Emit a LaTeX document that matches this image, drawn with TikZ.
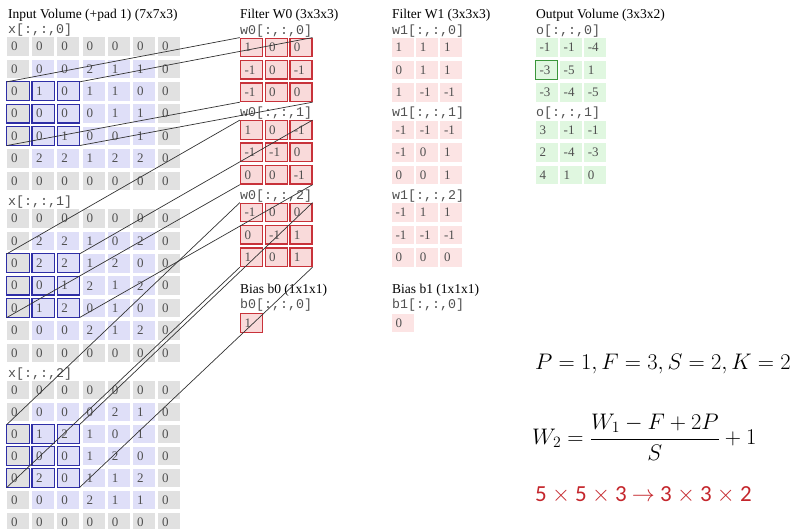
\RequirePackage{fix-cm}
\documentclass[tikz,border=0pt]{standalone}
\usepackage[no-math]{fontspec}
\newfontfamily\timesfont{Liberation Serif}
\newfontfamily\courfont{Liberation Mono}
\newfontfamily\califont{Carlito}
\definecolor{padgray}{HTML}{E1E1E1}
\definecolor{volblue}{HTML}{DFDFF8}
\definecolor{winblue}{HTML}{2E2EA6}
\definecolor{filtpink}{HTML}{F9DADA}
\definecolor{filtred}{HTML}{C8323A}
\definecolor{wonepink}{HTML}{FCE4E4}
\definecolor{outgreen}{HTML}{E0F7E0}
\definecolor{outedge}{HTML}{3A963A}
\definecolor{numgray}{HTML}{505050}
\definecolor{eqred}{HTML}{C4262C}
\tikzset{
  cell/.style={inner xsep=4pt, inner ysep=0pt, text width=14pt, minimum height=18.5pt,
    align=left, text=numgray, font=\timesfont\fontsize{13}{13}\selectfont},
  title/.style={anchor=west, inner sep=0pt, font=\timesfont\fontsize{13.5}{15}\selectfont},
  slice/.style={anchor=west, inner sep=0pt, text=numgray, font=\courfont\fontsize{13.3}{15}\selectfont},
  winbox/.style={draw=winblue, line width=1.3pt},
  filtbox/.style={draw=filtred, line width=1.3pt},
  link/.style={draw=black!80, line width=0.7pt},
  eq/.style={anchor=west, inner sep=0pt, font=\fontsize{22.5}{26}\selectfont}
}
\newcommand{\inslice}[4]{%
  \foreach \row [count=\r from 0] in {#4} {
    \foreach \v [count=\c from 0] in \row {
      \pgfmathtruncatemacro\pad{(\r==0)||(\r==6)||(\c==0)||(\c==6)}
      \ifnum\pad=1 \def\cfill{padgray}\else\def\cfill{volblue}\fi
      \node[cell, fill=\cfill] (x-#1-\r-\c) at ({18+25.2*\c},{#2+#3*\r}) {\v};
    }
  }
  \foreach \r in {2,3,4} \foreach \c in {0,1,2}
    \draw[winbox] (x-#1-\r-\c.north west) rectangle (x-#1-\r-\c.south east);
}
\newcommand{\fgrid}[6]{%
  \foreach \row [count=\r from 0] in {#6} {
    \foreach \v [count=\c from 0] in \row {
      \node[cell, #5] (#1-\r-\c) at ({#2+#3*\c},{#4+22.4*\r}) {\v};
    }
  }
}
\begin{document}
\begin{tikzpicture}[x=1pt, y=-1pt]
  \useasboundingbox (0,0) rectangle (801,529);

  \node[title] (tin) at (8,15) {Input Volume (+pad 1) (7x7x3)};
  \node[title] (tw0) at (240,15) {Filter W0 (3x3x3)};
  \node[title] (tw1) at (392,15) {Filter W1 (3x3x3)};
  \node[title] (tout) at (536,15) {Output Volume (3x3x2)};

  \node[slice] (lx0) at (8,30.5) {x[:,:,0]};
  \node[slice] (lx1) at (8,202) {x[:,:,1]};
  \node[slice] (lx2) at (8,374) {x[:,:,2]};
  \inslice{0}{46.5}{22.4}{{0,0,0,0,0,0,0},{0,0,0,2,1,1,0},{0,1,0,1,1,0,0},{0,0,0,0,1,1,0},{0,0,1,0,0,1,0},{0,2,2,1,2,2,0},{0,0,0,0,0,0,0}}
  \inslice{1}{218.5}{22.4}{{0,0,0,0,0,0,0},{0,2,2,1,0,2,0},{0,2,2,1,2,0,0},{0,0,1,2,1,2,0},{0,1,2,0,1,0,0},{0,0,0,2,1,2,0},{0,0,0,0,0,0,0}}
  \inslice{2}{390}{22}{{0,0,0,0,0,0,0},{0,0,0,0,2,1,0},{0,1,2,1,0,1,0},{0,0,0,1,2,0,0},{0,2,0,1,1,2,0},{0,0,0,2,1,1,0},{0,0,0,0,0,0,0}}

  \node[slice] (lw00) at (240,31) {w0[:,:,0]};
  \node[slice] (lw01) at (240,113.5) {w0[:,:,1]};
  \node[slice] (lw02) at (240,196) {w0[:,:,2]};
  \fgrid{w0-0}{251.5}{24.7}{47.5}{fill=filtpink, filtbox}{{1,0,0},{-1,0,-1},{-1,0,0}}
  \fgrid{w0-1}{251.5}{24.7}{130}{fill=filtpink, filtbox}{{1,0,-1},{-1,-1,0},{0,0,-1}}
  \fgrid{w0-2}{251.5}{24.7}{212.5}{fill=filtpink, filtbox}{{-1,0,0},{0,-1,1},{1,0,1}}
  \node[title] (tb0) at (240,290) {Bias b0 (1x1x1)};
  \node[slice] (lb0) at (240,305) {b0[:,:,0]};
  \node[cell, fill=filtpink, filtbox] (b0) at (251.5,323) {1};

  \node[slice] (lw10) at (392,31) {w1[:,:,0]};
  \node[slice] (lw11) at (392,113.5) {w1[:,:,1]};
  \node[slice] (lw12) at (392,196) {w1[:,:,2]};
  \fgrid{w1-0}{402.5}{24.3}{47.5}{fill=wonepink}{{1,1,1},{0,1,1},{1,-1,-1}}
  \fgrid{w1-1}{402.5}{24.3}{130}{fill=wonepink}{{-1,-1,-1},{-1,0,1},{0,0,1}}
  \fgrid{w1-2}{402.5}{24.3}{212.5}{fill=wonepink}{{-1,1,1},{-1,-1,-1},{0,0,0}}
  \node[title] (tb1) at (392,290) {Bias b1 (1x1x1)};
  \node[slice] (lb1) at (392,305) {b1[:,:,0]};
  \node[cell, fill=wonepink] (b1) at (402.5,323) {0};

  \node[slice] (lo0) at (536,31) {o[:,:,0]};
  \node[slice] (lo1) at (536,113.5) {o[:,:,1]};
  \fgrid{o-0}{546.5}{24.2}{47.5}{fill=outgreen}{{-1,-1,-4},{-3,-5,1},{-3,-4,-5}}
  \fgrid{o-1}{546.5}{24.2}{130}{fill=outgreen}{{3,-1,-1},{2,-4,-3},{4,1,0}}
  \draw[draw=outedge, line width=1.2pt] (o-0-1-0.north west) rectangle (o-0-1-0.south east);

  \foreach \k in {0,1,2} {
    \draw[link] (x-\k-2-0.north west) -- (w0-\k-0-0.north west);
    \draw[link] (x-\k-2-2.north east) -- (w0-\k-0-2.north east);
    \draw[link] (x-\k-4-0.south west) -- (w0-\k-2-0.south west);
    \draw[link] (x-\k-4-2.south east) -- (w0-\k-2-2.south east);
  }

  \node[eq] (eqp) at (535,364) {$P=1,F=3,S=2,K=2$};
  \node[eq] (eqw) at (532,437) {$\displaystyle W_2=\frac{W_1-F+2P}{S}+1$};
  \node[eq, text=eqred, font=\califont\fontsize{23}{26}\selectfont] (eqs) at (535,494.5) {5 $\times$ 5 $\times$ 3 $\rightarrow$ 3 $\times$ 3 $\times$ 2};
\end{tikzpicture}
\end{document}
